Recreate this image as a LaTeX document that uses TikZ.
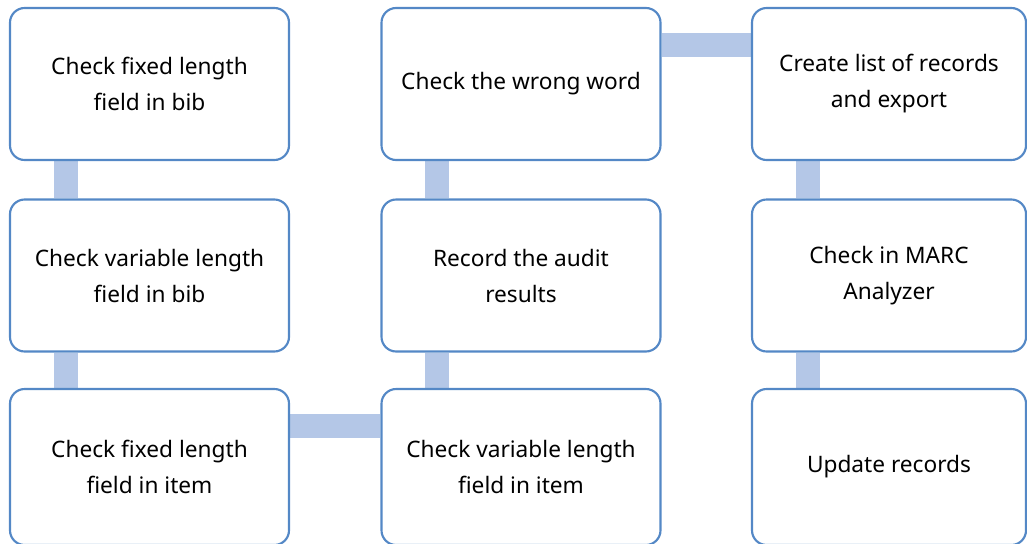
\documentclass[tikz,border=0pt]{standalone}
\usepackage{fontspec}
\setmainfont{Noto Sans}
\usetikzlibrary{calc,backgrounds}
\definecolor{boxline}{RGB}{84,136,198}
\definecolor{barfill}{RGB}{180,199,231}
\begin{document}
\begin{tikzpicture}[x=0.75pt,y=-0.75pt,
  stepbox/.style={draw=boxline,line width=1.6pt,fill=white,rounded corners=11pt,
    minimum height=152*0.75pt,inner sep=0pt,align=center,
    font=\fontsize{17}{27}\selectfont},
  wbox/.style={stepbox,minimum width=279*0.75pt},
  nbox/.style={stepbox,minimum width=274*0.75pt},
  lowbox/.style={minimum height=156*0.75pt},
  bar/.style={draw=barfill,line width=18pt}]
\useasboundingbox (0,0) rectangle (1027,543);
\node[wbox] (b1) at (149.5,84) {Check fixed length\\field in bib};
\node[wbox] (b2) at (149.5,275.5) {Check variable length\\field in bib};
\node[wbox,lowbox] (b3) at (149.5,467) {Check fixed length\\field in item};
\node[wbox,lowbox] (b4) at (521,467) {Check variable length\\field in item};
\node[wbox] (b5) at (521,275.5) {Record the audit\\results};
\node[wbox] (b6) at (521,84) {Check the wrong word};
\node[nbox] (b7) at (889,84) {Create list of records\\and export};
\node[nbox] (b8) at (889,275.5) {Check in MARC\\Analyzer};
\node[nbox,lowbox] (b9) at (889,467) {Update records};
\begin{scope}[on background layer]
\draw[bar] ($(b1.south west)+(57,0)$) -- ($(b2.north west)+(57,0)$);
\draw[bar] ($(b2.south west)+(57,0)$) -- ($(b3.north west)+(57,0)$);
\draw[bar] ($(b3.north east)+(0,38)$) -- ($(b4.north west)+(0,38)$);
\draw[bar] ($(b4.north west)+(57,0)$) -- ($(b5.south west)+(57,0)$);
\draw[bar] ($(b5.north west)+(57,0)$) -- ($(b6.south west)+(57,0)$);
\draw[bar] ($(b6.north east)+(0,38)$) -- ($(b7.north west)+(0,38)$);
\draw[bar] ($(b7.south west)+(57,0)$) -- ($(b8.north west)+(57,0)$);
\draw[bar] ($(b8.south west)+(57,0)$) -- ($(b9.north west)+(57,0)$);
\end{scope}
\end{tikzpicture}
\end{document}
